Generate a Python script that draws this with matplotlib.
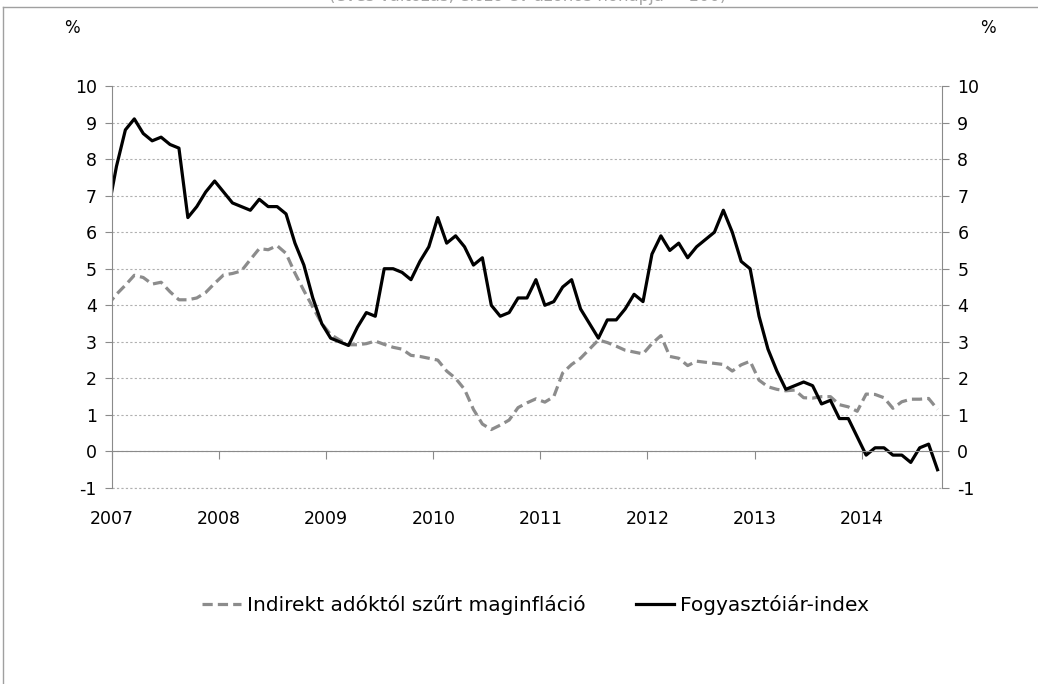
import numpy as np
import matplotlib.pyplot as plt
from matplotlib.lines import Line2D

plt.rcParams['font.family'] = 'DejaVu Sans'
plt.rcParams['axes.unicode_minus'] = False

# monthly values, Dec 2006 .. Sep 2014 (the Dec 2006 point is clipped by the axis)
years = ['2007', '2008', '2009', '2010', '2011', '2012', '2013', '2014']

cpi = [6.5,
       7.8, 8.8, 9.1, 8.7, 8.5, 8.6, 8.4, 8.3, 6.4, 6.7, 7.1, 7.4,
       7.1, 6.8, 6.7, 6.6, 6.9, 6.7, 6.7, 6.5, 5.7, 5.1, 4.2, 3.5,
       3.1, 3.0, 2.9, 3.4, 3.8, 3.7, 5.0, 5.0, 4.9, 4.7, 5.2, 5.6,
       6.4, 5.7, 5.9, 5.6, 5.1, 5.3, 4.0, 3.7, 3.8, 4.2, 4.2, 4.7,
       4.0, 4.1, 4.5, 4.7, 3.9, 3.5, 3.1, 3.6, 3.6, 3.9, 4.3, 4.1,
       5.4, 5.9, 5.5, 5.7, 5.3, 5.6, 5.8, 6.0, 6.6, 6.0, 5.2, 5.0,
       3.7, 2.8, 2.2, 1.7, 1.8, 1.9, 1.8, 1.3, 1.4, 0.9, 0.9, 0.4,
       -0.1, 0.1, 0.1, -0.1, -0.1, -0.3, 0.1, 0.2, -0.5]

core = [4.0,
        4.3, 4.55, 4.82, 4.76, 4.58, 4.63, 4.37, 4.15, 4.15, 4.2, 4.35, 4.6,
        4.83, 4.87, 4.94, 5.25, 5.55, 5.52, 5.63, 5.42, 4.88, 4.4, 3.95, 3.5,
        3.2, 3.05, 2.92, 2.92, 2.95, 3.02, 2.93, 2.85, 2.8, 2.63, 2.6, 2.55,
        2.5, 2.2, 2.0, 1.7, 1.15, 0.75, 0.6, 0.72, 0.86, 1.2, 1.33, 1.44,
        1.35, 1.5, 2.15, 2.38, 2.55, 2.8, 3.05, 2.98, 2.88, 2.77, 2.72, 2.67,
        2.95, 3.17, 2.6, 2.55, 2.35, 2.47, 2.44, 2.41, 2.38, 2.2, 2.37, 2.47,
        1.95, 1.77, 1.7, 1.66, 1.68, 1.47, 1.46, 1.5, 1.5, 1.28, 1.22, 1.1,
        1.57, 1.56, 1.47, 1.18, 1.36, 1.43, 1.43, 1.45, 1.15]

core_label = 'Indirekt adóktól szűrt maginfláció'
cpi_label = 'Fogyasztóiár-index'

axis_grey = '#8a8a8a'
grid_grey = '#b0b0b0'

fig = plt.figure(figsize=(10.38, 6.84), dpi=100)
ax = fig.add_axes([112 / 1038, 1 - 488 / 684, 830 / 1038, 402 / 684])

months = np.arange(len(cpi)) - 1
ax.plot(months, core, color='#8c8c8c', lw=2.3, dashes=(3.2, 1.6), label=core_label)
ax.plot(months, cpi, color='black', lw=2.3, label=cpi_label)

ax.set_xlim(-0.5, 92.5)
ax.set_ylim(-1, 10)

yt = np.arange(-1, 11)
ax.set_yticks(yt)
ax.set_yticklabels([str(v) for v in yt])
ax.yaxis.grid(True, color=grid_grey, linestyle=(0, (2, 2)), linewidth=0.8)
ax.axhline(-1, color=grid_grey, linestyle=(0, (2, 2)), linewidth=0.8, clip_on=False)
ax.set_axisbelow(True)

ax.set_xticks(np.arange(len(years)) * 12 - 0.5)
ax.set_xticklabels(years)

for s in ['top', 'right']:
    ax.spines[s].set_visible(False)
ax.spines['left'].set_color(axis_grey)
ax.spines['bottom'].set_color(axis_grey)
ax.spines['bottom'].set_position(('data', 0))
ax.tick_params(axis='y', direction='out', length=5, color=axis_grey,
               labelsize=12.5, pad=6)
ax.tick_params(axis='x', direction='out', length=6, color=axis_grey,
               labelsize=12.5, pad=36)

ax2 = ax.twinx()
ax2.set_ylim(-1, 10)
ax2.set_yticks(yt)
ax2.set_yticklabels([str(v) for v in yt])
for s in ['top', 'left', 'bottom']:
    ax2.spines[s].set_visible(False)
ax2.spines['right'].set_color(axis_grey)
ax2.tick_params(axis='y', direction='out', length=5, color=axis_grey,
                labelsize=12.5, pad=6)

fig.text(72 / 1038, 1 - 28 / 684, '%', ha='center', va='center', fontsize=12)
fig.text(988 / 1038, 1 - 28 / 684, '%', ha='center', va='center', fontsize=12)

# title, cut off by the top of the picture (as in the source)
fig.text(0.508, 1 - 1 / 684, '(éves változás, előző év azonos hónapja = 100)',
         ha='center', va='baseline', fontsize=12, color='#a5a5a5')

# outer frame (left and top edges)
fig.add_artist(Line2D([3 / 1038, 3 / 1038], [0, 1 - 7 / 684],
                      transform=fig.transFigure, color='#a0a0a0', lw=1))
fig.add_artist(Line2D([3 / 1038, 1], [1 - 7 / 684, 1 - 7 / 684],
                      transform=fig.transFigure, color='#a0a0a0', lw=1))

fig.legend(loc='center', bbox_to_anchor=(0.516, 1 - 605 / 684), ncol=2,
           frameon=False, fontsize=14.5, handlelength=1.9, handletextpad=0.3,
           columnspacing=2.5)

fig.savefig('out.png', dpi=100)
